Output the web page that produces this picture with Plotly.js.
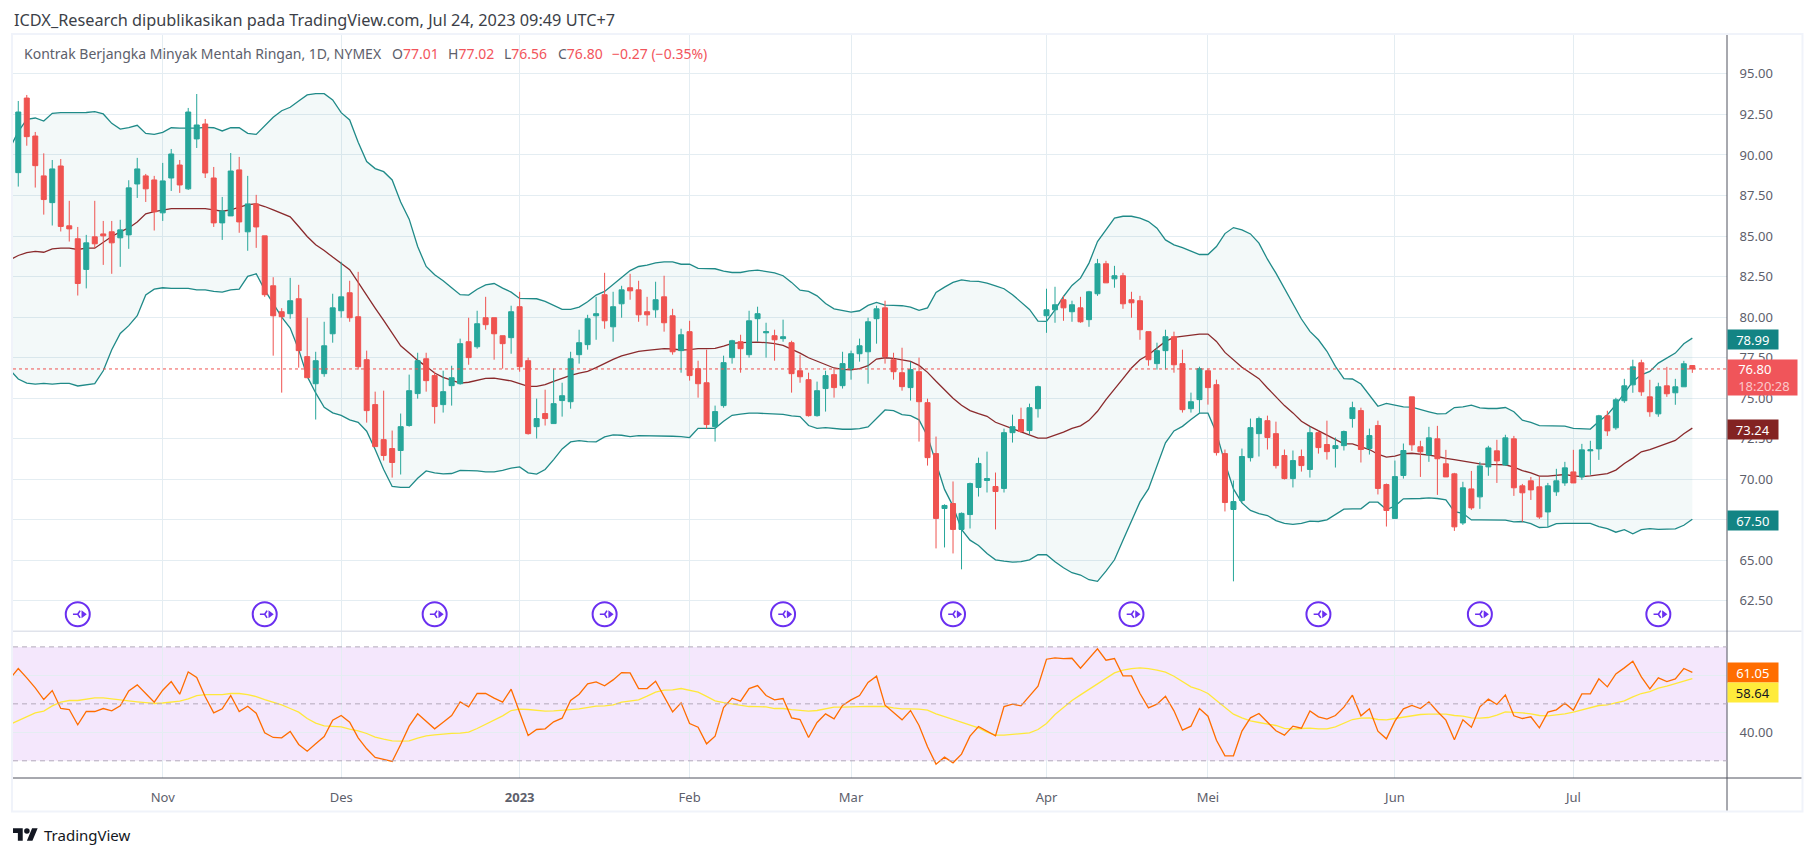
<!DOCTYPE html>
<html>
<head>
<meta charset="utf-8">
<script src="https://cdn.plot.ly/plotly-3.0.1.min.js"></script>
<style>
  body { margin: 0; background: #fff; }
  #chart { width: 1815px; height: 857px; }
  #logo { position: absolute; left: 13px; top: 828px; }
</style>
</head>
<body>
<div id="chart"></div>
<svg id="logo" width="25" height="13" viewBox="0 4 36 18"><path fill="#131722" d="M14 22H7V11H0V4h14v18zM28 22h-8l7.5-18h8L28 22z"/><circle fill="#131722" cx="20" cy="8" r="4"/></svg>
<script>
// daily candles, one per trading day (x = candle number)
const opens = [
  88.91,93.51,91.17,88.71,87.06,89.32,85.63,84.83,82.94,84.95,
  85.13,85.26,84.89,85.07,88.21,88.71,88.46,86.43,88.58,89.38,
  87.91,90.99,91.91,88.58,85.81,86.24,89.08,85.26,86.98,85.01,
  81.93,80.33,80.21,81.13,77.56,75.89,76.51,78.97,80.39,81.50,
  80.02,77.37,74.60,72.44,71.89,71.77,73.31,75.28,77.43,76.39,
  74.60,75.77,75.89,78.48,78.17,79.96,79.96,78.85,78.73,80.64,
  77.31,73.24,74.05,73.43,74.85,74.78,77.68,78.30,80.08,81.38,
  79.40,80.82,81.81,81.68,80.33,80.45,81.25,80.08,77.93,79.10,
  76.82,75.95,73.24,74.54,77.50,78.48,77.68,79.90,79.03,78.85,
  78.67,78.42,76.69,76.14,73.92,75.59,76.45,75.77,76.82,77.74,
  77.86,79.90,80.57,77.37,76.57,75.65,76.63,74.72,71.58,68.19,
  68.50,66.90,67.82,69.49,69.92,69.55,69.43,72.87,73.68,73.00,
  74.35,80.08,80.45,81.07,80.33,80.57,79.84,81.44,83.29,82.36,
  82.55,81.07,81.01,79.10,77.13,77.93,78.79,77.13,74.35,74.91,
  76.69,75.83,71.58,68.13,68.69,71.33,72.81,73.61,72.81,71.46,
  70.04,71.40,70.60,72.87,72.14,71.89,72.07,73.74,74.23,71.89,
  73.31,69.67,67.58,70.23,75.08,72.00,71.50,72.49,70.95,70.33,
  67.30,69.40,68.91,70.76,71.75,70.88,72.49,69.59,69.90,69.53,
  67.98,69.22,69.77,70.45,70.14,71.75,71.87,73.91,73.17,74.84,
  75.82,77.18,75.08,74.03,75.76,75.33,75.70,77.01
];
const highs = [
  93.33,93.70,91.42,90.10,89.69,89.75,87.17,85.56,85.07,87.17,
  85.93,85.93,86.00,88.44,89.82,88.83,88.71,89.51,90.37,89.69,
  92.90,93.76,92.22,89.26,87.41,90.12,89.88,88.71,87.54,85.01,
  82.46,80.55,82.42,81.99,79.96,77.86,79.71,81.44,83.41,82.24,
  82.79,77.93,75.40,75.46,73.00,74.05,76.45,77.80,77.80,76.63,
  76.69,77.00,78.67,79.96,80.39,81.25,79.96,78.85,80.70,81.56,
  77.50,74.97,75.52,76.82,75.95,77.86,79.22,80.14,81.25,82.73,
  81.56,81.93,82.67,82.24,81.25,82.18,82.55,80.51,79.28,79.77,
  77.31,77.99,74.54,77.62,78.60,78.91,80.39,80.64,79.65,79.22,
  79.84,78.54,77.68,76.57,76.02,76.69,76.82,77.86,77.93,78.67,
  79.96,80.70,81.01,77.80,78.11,77.25,77.50,74.97,72.63,68.45,
  69.86,67.95,69.79,71.33,71.70,70.41,73.12,73.98,74.41,74.66,
  75.77,81.75,81.87,81.31,81.01,81.25,81.62,83.59,83.47,83.16,
  82.73,81.56,81.31,79.10,78.42,79.22,79.10,77.99,75.34,76.94,
  76.82,76.14,71.83,69.92,71.89,73.74,73.86,73.92,73.55,71.83,
  71.77,71.83,73.24,73.00,73.61,72.57,73.00,74.78,74.41,73.12,
  73.61,69.73,71.15,72.20,75.08,72.37,73.23,73.29,71.81,70.39,
  69.84,70.51,71.07,72.06,72.43,72.74,72.67,69.71,70.14,70.14,
  69.77,70.64,71.07,71.81,72.18,72.37,73.97,74.22,75.02,76.19,
  77.37,77.37,76.13,75.95,76.93,76.19,77.30,77.02
];
const lows = [
  88.05,90.57,87.99,86.32,85.65,85.28,84.66,81.33,81.77,84.25,
  83.22,82.67,83.10,84.21,87.35,87.10,85.34,85.93,87.78,87.66,
  87.84,90.43,88.58,85.56,84.76,86.24,85.20,84.09,84.27,81.25,
  77.62,75.34,79.90,76.88,76.26,73.68,76.32,78.42,79.96,79.71,
  76.76,73.49,72.01,71.15,70.10,70.29,73.24,74.97,75.40,73.43,
  74.11,74.54,75.83,77.06,78.05,79.22,77.37,76.82,77.74,76.63,
  72.75,72.51,73.31,73.43,73.86,74.35,77.13,77.99,78.60,79.28,
  78.48,79.96,81.07,79.71,79.47,79.96,79.10,77.68,76.57,76.08,
  75.03,73.12,72.32,74.41,77.13,76.57,77.50,78.48,77.50,77.31,
  78.48,75.34,75.95,73.86,73.86,74.17,75.03,75.59,76.14,77.25,
  75.89,78.36,77.13,76.14,75.46,74.85,72.32,70.84,65.73,65.79,
  65.42,64.44,66.96,68.93,69.18,66.90,69.18,72.26,72.87,72.75,
  73.80,79.03,79.65,79.77,79.71,79.65,79.40,81.31,82.11,81.81,
  80.51,79.96,78.60,77.00,76.76,76.76,76.57,74.11,74.11,74.05,
  74.60,71.46,68.01,63.70,68.56,71.09,71.40,71.83,70.66,69.98,
  69.49,70.47,70.10,71.58,71.21,70.72,71.77,73.18,71.03,71.52,
  69.06,67.08,67.58,70.04,71.75,70.14,71.07,69.03,70.14,66.81,
  67.18,68.11,68.17,70.21,69.77,70.82,68.97,67.37,68.72,67.55,
  67.06,68.97,69.59,69.77,69.96,70.27,71.19,72.67,73.05,74.71,
  75.33,75.14,73.85,73.85,75.08,74.59,75.70,76.56
];
const closes = [
  92.65,91.13,89.34,87.25,89.14,85.59,85.44,82.07,84.58,84.52,
  85.01,84.58,85.38,87.97,89.14,87.91,86.49,88.40,90.06,88.15,
  92.65,91.85,88.89,85.81,86.55,89.01,85.87,86.98,85.56,81.38,
  80.08,80.02,81.01,77.93,76.26,77.31,78.23,80.57,81.25,79.96,
  76.94,74.23,72.01,71.46,71.03,73.24,75.46,77.31,76.08,74.48,
  75.40,76.26,78.36,77.50,79.59,79.53,78.97,78.36,80.33,76.94,
  72.81,73.74,73.74,74.66,75.15,77.43,78.42,79.90,80.21,79.77,
  80.64,81.68,81.62,80.14,80.14,81.07,79.65,77.86,78.91,76.39,
  75.89,73.37,74.17,77.19,78.54,78.05,79.77,80.21,79.10,78.60,
  78.79,76.51,76.32,73.92,75.46,76.39,75.65,77.13,77.74,78.23,
  79.71,80.51,77.56,76.63,75.71,76.76,74.78,71.33,67.58,68.38,
  66.90,67.89,69.73,70.97,70.04,69.24,72.87,73.24,72.94,74.41,
  75.71,80.45,80.76,80.57,80.76,79.71,81.56,83.29,82.11,82.55,
  80.82,80.88,79.22,77.37,77.93,78.79,77.06,74.29,74.78,76.82,
  75.65,71.64,68.56,68.62,71.40,73.18,73.74,72.57,70.84,70.04,
  71.15,70.84,72.87,71.95,71.70,72.07,72.94,74.41,71.83,72.69,
  69.43,68.07,70.16,71.77,72.12,71.69,72.55,71.26,70.14,67.06,
  69.47,68.23,70.82,71.93,71.13,72.55,69.47,69.16,69.34,67.67,
  69.59,69.90,70.70,69.77,71.81,71.81,73.91,72.98,74.90,75.76,
  76.93,75.39,74.16,75.70,75.27,75.70,77.12,76.80
];

// bollinger bands and rsi start one candle before the first visible one
const bbUpper = [
  90.41,91.44,92.20,92.28,92.09,92.57,92.61,92.60,92.59,92.62,92.67,
  92.53,91.95,91.60,91.68,91.83,91.33,91.27,91.40,91.68,91.65,
  91.64,91.66,91.70,91.68,91.48,91.68,91.68,91.33,91.27,91.81,
  92.32,92.73,92.94,93.33,93.70,93.78,93.78,93.39,92.61,92.16,
  90.78,89.59,89.16,88.97,88.46,87.10,86.04,84.35,83.12,82.61,
  82.24,81.81,81.38,81.36,81.72,81.99,82.07,81.79,81.54,81.15,
  81.13,81.13,80.97,80.72,80.47,80.47,80.62,80.94,81.36,81.58,
  81.99,82.44,82.87,83.12,83.20,83.35,83.41,83.41,83.26,83.26,
  83.00,83.00,82.98,82.83,82.75,82.75,82.85,82.90,82.81,82.73,
  82.55,82.14,81.66,81.58,81.31,80.84,80.51,80.43,80.31,80.39,
  80.72,80.90,80.74,80.72,80.70,80.62,80.41,80.57,81.52,81.85,
  82.14,82.30,82.22,82.20,82.09,81.93,81.75,81.38,80.92,80.47,
  79.75,79.73,80.45,81.27,81.95,82.40,83.33,84.66,85.38,86.10,
  86.22,86.22,86.10,85.89,85.48,84.76,84.46,84.29,84.07,83.86,
  83.86,84.35,85.15,85.52,85.38,85.13,84.56,83.57,82.71,81.79,
  80.86,79.88,79.12,78.60,77.89,76.96,76.20,76.18,75.87,75.22,
  74.50,74.68,74.58,74.46,74.44,74.32,74.16,74.03,74.05,74.42,
  74.46,74.57,74.40,74.36,74.36,74.42,74.16,73.64,73.50,73.31,
  73.31,73.27,73.27,73.13,73.09,73.09,73.56,73.97,74.59,75.31,
  76.03,76.44,76.65,77.16,77.47,77.78,78.35,78.70
];
const bbMiddle = [
  83.53,83.80,83.98,84.05,84.00,84.21,84.25,84.25,84.17,84.25,84.25,
  84.60,84.97,85.26,85.50,85.87,86.37,86.51,86.61,86.69,86.69,
  86.69,86.71,86.69,86.61,86.53,86.61,86.78,86.94,86.98,86.82,
  86.61,86.41,86.18,85.59,84.97,84.46,84.11,83.70,83.29,82.92,
  82.14,81.31,80.55,79.79,79.01,78.23,77.78,77.33,76.96,76.55,
  76.28,76.10,75.93,75.98,76.10,76.22,76.24,76.14,76.06,75.89,
  75.73,75.73,75.83,76.04,76.24,76.41,76.55,76.65,76.88,77.15,
  77.39,77.60,77.76,77.88,77.95,78.01,78.05,78.03,77.97,77.99,
  78.05,78.05,78.07,78.21,78.38,78.42,78.44,78.46,78.42,78.36,
  78.25,78.03,77.78,77.49,77.27,77.06,76.86,76.78,76.74,76.82,
  77.00,77.41,77.49,77.45,77.35,77.27,77.02,76.59,76.04,75.52,
  74.99,74.56,74.23,74.04,73.88,73.51,73.31,73.10,72.92,72.69,
  72.53,72.53,72.71,72.90,73.14,73.29,73.63,74.19,74.91,75.52,
  76.20,76.86,77.37,77.68,78.09,78.50,78.75,78.81,78.85,78.95,
  78.95,78.50,77.82,77.33,76.90,76.55,76.20,75.63,75.07,74.54,
  74.09,73.57,73.26,72.99,72.69,72.40,72.18,72.18,71.99,71.83,
  71.54,71.36,71.42,71.58,71.60,71.56,71.48,71.40,71.28,71.21,
  71.11,71.01,70.95,70.91,70.91,70.89,70.74,70.53,70.39,70.19,
  70.19,70.23,70.29,70.21,70.16,70.21,70.29,70.35,70.56,70.97,
  71.30,71.69,71.83,72.02,72.22,72.39,72.80,73.15
];
const bbLower = [
  76.76,76.18,75.93,75.87,75.91,75.87,75.91,75.91,75.75,75.83,75.89,
  76.69,77.99,78.99,79.47,80.08,81.36,81.72,81.81,81.77,81.77,
  81.77,81.68,81.68,81.58,81.54,81.68,81.72,82.51,82.67,81.68,
  80.86,80.00,79.32,77.99,76.34,75.32,74.44,74.09,73.94,73.66,
  73.51,72.96,71.83,70.60,69.55,69.49,69.49,70.06,70.51,70.39,
  70.33,70.35,70.55,70.55,70.51,70.45,70.45,70.55,70.68,70.76,
  70.39,70.31,70.60,71.21,71.87,72.30,72.38,72.32,72.30,72.61,
  72.73,72.71,72.63,72.69,72.69,72.67,72.65,72.65,72.63,72.57,
  73.14,73.12,73.14,73.57,73.94,74.02,74.07,74.07,74.05,74.00,
  74.00,73.90,73.86,73.31,73.14,73.18,73.12,73.08,73.08,73.12,
  73.22,73.76,74.27,74.23,73.98,73.92,73.66,72.65,71.01,69.37,
  68.34,66.90,66.24,65.91,65.42,65.03,64.95,64.89,64.91,65.03,
  65.34,65.34,64.91,64.54,64.23,64.09,63.80,63.70,64.33,65.03,
  66.24,67.41,68.60,69.40,70.80,72.24,72.98,73.26,73.68,74.07,
  74.07,72.85,71.01,69.40,68.54,68.07,67.88,67.76,67.45,67.27,
  67.21,67.27,67.41,67.39,67.49,67.82,68.15,68.17,68.17,68.58,
  68.58,68.13,68.34,68.79,68.79,68.81,68.85,68.81,68.72,68.00,
  67.90,67.49,67.49,67.49,67.47,67.47,67.37,67.39,67.26,67.02,
  67.04,67.26,67.28,67.26,67.28,67.28,67.08,66.95,66.73,66.89,
  66.63,66.89,66.95,66.91,66.93,66.93,67.16,67.53
];
const rsi = [
  58.77,62.40,59.12,55.61,51.52,54.68,48.36,48.01,42.63,47.31,47.31,
  48.36,47.54,49.30,54.56,56.67,53.63,50.58,54.80,57.84,53.39,
  61.23,59.24,52.46,46.84,48.25,52.92,47.31,49.18,46.73,39.82,
  38.19,38.07,40.29,35.73,33.39,35.96,38.54,44.27,45.91,43.57,
  38.07,34.21,31.17,30.47,29.77,35.73,42.16,46.49,43.92,41.23,
  43.57,45.91,50.70,48.95,53.63,53.63,51.99,50.58,55.15,47.08,
  38.89,40.99,41.23,43.68,44.97,51.17,53.39,57.02,57.72,56.32,
  58.42,60.99,60.88,55.38,55.38,57.95,52.69,47.19,50.35,43.10,
  41.81,35.96,38.65,48.71,51.99,50.94,55.38,56.43,52.92,51.40,
  51.87,45.09,44.50,38.19,43.45,46.49,44.74,49.42,51.40,52.92,
  57.49,59.71,49.53,46.96,44.39,47.66,42.40,34.91,28.83,31.29,
  29.30,32.34,38.65,42.05,40.29,38.77,49.06,49.88,49.30,52.92,
  56.20,65.67,66.14,65.91,66.02,62.51,65.91,69.30,65.32,65.91,
  59.82,59.82,53.63,48.60,49.88,52.69,47.54,40.76,42.16,48.36,
  45.67,37.20,31.75,31.75,40.41,45.09,46.61,43.68,40.53,39.01,
  42.16,41.46,47.54,45.44,44.62,45.91,48.83,53.04,45.79,48.25,
  40.41,37.72,43.92,48.25,49.42,48.36,50.70,47.31,44.27,37.37,
  44.39,41.81,48.95,51.64,49.77,53.16,45.79,44.85,45.44,41.58,
  47.08,47.89,50.23,47.78,53.51,53.51,58.77,55.96,60.53,62.63,
  64.97,59.47,55.26,59.12,57.84,58.77,62.40,61.05
];
const rsiMa = [
  42.75,44.15,45.60,46.84,47.43,49.30,50.58,51.17,51.17,51.52,52.11,
  52.11,51.70,51.29,51.00,50.70,50.40,50.12,50.30,50.58,50.94,
  51.75,52.92,53.27,53.27,53.27,53.63,53.63,53.27,52.57,51.52,
  50.70,49.65,48.36,47.08,44.85,43.22,42.28,42.10,41.93,41.11,
  40.53,39.59,38.30,37.60,37.02,36.90,37.02,37.95,38.77,39.12,
  39.47,39.60,39.71,40.06,41.35,42.75,44.39,45.79,47.66,48.13,
  48.01,47.70,47.43,47.50,47.66,48.00,48.25,48.83,49.18,49.30,
  49.65,50.58,51.00,51.40,52.70,54.09,54.80,54.91,55.38,54.80,
  54.09,52.60,51.05,50.40,49.88,49.40,49.06,49.00,48.95,48.36,
  48.36,48.00,47.66,47.43,47.66,48.25,48.83,48.83,48.83,49.00,
  49.10,49.18,49.06,48.60,48.25,48.20,48.13,47.78,46.49,45.50,
  44.50,43.33,42.40,41.58,40.06,39.01,39.01,39.20,39.47,39.82,
  40.99,43.10,46.26,48.60,51.17,53.16,55.03,57.13,58.77,60.88,
  61.81,62.40,62.63,62.40,61.81,61.11,59.71,57.84,55.96,55.03,
  53.63,51.17,48.60,46.37,45.09,44.04,43.45,42.98,42.40,41.35,
  41.11,41.35,41.46,41.23,41.23,41.93,43.22,44.50,44.97,45.09,
  44.50,44.39,44.85,45.32,45.91,46.26,46.37,46.49,46.37,45.91,
  45.67,45.09,44.97,45.20,46.02,47.19,47.08,46.84,46.49,45.91,
  45.79,46.02,46.49,47.08,47.89,48.60,49.42,49.65,50.35,51.05,
  52.46,53.63,54.33,55.50,56.20,57.13,57.95,58.89
];

// month labels and the candle each month starts on
const tickIdx = [17, 38, 59, 79, 98, 121, 140, 162, 183];
const tickText = ['Nov', 'Des', '<b>2023</b>', 'Feb', 'Mar', 'Apr', 'Mei', 'Jun', 'Jul'];
const priceTicks = [62.5, 65, 67.5, 70, 72.5, 75, 77.5, 80, 82.5, 85, 87.5, 90, 92.5, 95];
const rsiTicks = [40, 60];
const rsiLevels = [30, 50, 70];
// contract rollover markers
const eventIdx = [7, 29, 49, 69, 90, 110, 131, 153, 172, 193];
const eventLevel = 61.67;
const lastPrice = 76.80;

const FONT = '"Noto Sans", sans-serif';
const candleX = opens.map((v, i) => i);
const lineX = rsi.map((v, i) => i - 1);

// page pixels to paper coordinates
const LEFT = 13, RIGHT = 1727.5, TOP = 35, BOTTOM = 778.5;
const px = x => (x - LEFT) / (RIGHT - LEFT);
const py = y => (BOTTOM - y) / (BOTTOM - TOP);

const TEAL = '#1f8a88', MAROON = '#8a2a2c', UP = '#26a69a', DOWN = '#ef5350', PURPLE = '#6a2ff0';

const traces = [
  {x: lineX, y: bbUpper, mode: 'lines', line: {color: TEAL, width: 1.3}, xaxis: 'x', yaxis: 'y'},
  {x: lineX, y: bbLower, mode: 'lines', line: {color: TEAL, width: 1.3}, fill: 'tonexty', fillcolor: 'rgba(19,132,132,0.05)', xaxis: 'x', yaxis: 'y'},
  {x: lineX, y: bbMiddle, mode: 'lines', line: {color: MAROON, width: 1.3}, xaxis: 'x', yaxis: 'y'},
  {
    type: 'candlestick', x: candleX, open: opens, high: highs, low: lows, close: closes,
    xaxis: 'x', yaxis: 'y3', whiskerwidth: 0,
    increasing: {line: {color: UP, width: 1}, fillcolor: UP},
    decreasing: {line: {color: DOWN, width: 1}, fillcolor: DOWN}
  },
  {x: lineX, y: rsiMa, mode: 'lines', line: {color: '#ffe83b', width: 1.3}, xaxis: 'x', yaxis: 'y2'},
  {x: lineX, y: rsi, mode: 'lines', line: {color: '#ff6d00', width: 1.3}, xaxis: 'x', yaxis: 'y2'},
  {
    x: eventIdx, y: eventIdx.map(() => eventLevel), mode: 'markers', xaxis: 'x', yaxis: 'y',
    marker: {symbol: 'circle-open', size: 24, color: PURPLE, line: {width: 2}}
  },
  // fork merging into the arrow head inside the circle
  {
    x: eventIdx, y: eventIdx.map(() => eventLevel), mode: 'markers', xaxis: 'x', yaxis: 'y',
    marker: {symbol: 'y-left-open', size: 6, color: PURPLE, line: {width: 1.6}}
  },
  {
    x: eventIdx.map(v => v + 0.65), y: eventIdx.map(() => eventLevel), mode: 'markers', xaxis: 'x', yaxis: 'y',
    marker: {symbol: 'triangle-right', size: 7, color: PURPLE, line: {width: 0}}
  }
];

function tag(text, y0, y1, bg, color, x1) {
  return {
    xref: 'paper', yref: 'paper', x: 1, xanchor: 'left', y: py((y0 + y1) / 2), yanchor: 'middle',
    width: (x1 || 1777) - RIGHT, height: y1 - y0, bgcolor: bg, borderpad: 0, showarrow: false,
    align: x1 ? 'left' : 'center', text: text, font: {family: FONT, size: 13, color: color}
  };
}
function label(text, x, y, size, color) {
  return {
    xref: 'paper', yref: 'paper', x: px(x), y: py(y), xanchor: 'left', yanchor: 'middle',
    showarrow: false, text: text, borderpad: 0, font: {family: FONT, size: size, color: color}
  };
}

const GREY = '#5d606b', RED = '#f2545b';
const annotations = [
  label('ICDX_Research dipublikasikan pada TradingView.com, Jul 24, 2023 09:49 UTC+7', 13, 20, 16.3, '#3c3f48'),
  label('Kontrak Berjangka Minyak Mentah Ringan, 1D, NYMEX', 23, 53.5, 14, GREY),
  label('O<span style="color:' + RED + '">77.01</span>', 391, 53.5, 14, GREY),
  label('H<span style="color:' + RED + '">77.02</span>', 447, 53.5, 14, GREY),
  label('L<span style="color:' + RED + '">76.56</span>', 503, 53.5, 14, GREY),
  label('C<span style="color:' + RED + '">76.80</span>', 557, 53.5, 14, GREY),
  label('<span style="color:' + RED + '">\u22120.27 (\u22120.35%)</span>', 611.5, 53.5, 14, GREY),
  label('TradingView', 43, 836, 15, '#131722'),
  tag('78.99', 330, 349, '#138484', '#ffffff'),
  tag('\u00a0\u00a0\u00a076.80<br>\u00a0\u00a0\u00a0<span style="color:#fbc9cb">18:20:28</span>', 360, 395, '#f0555a', '#ffffff', 1796),
  tag('73.24', 420, 439, '#832322', '#ffffff'),
  tag('67.50', 511, 530, '#138484', '#ffffff'),
  tag('61.05', 663, 682, '#ff6d00', '#ffffff'),
  tag('58.64', 683, 702, '#ffeb3b', '#131722')
];

const shapes = [
  // rsi background band
  {type: 'rect', xref: 'paper', yref: 'y2', x0: 0, x1: 1, y0: rsiLevels[0], y1: rsiLevels[2], fillcolor: 'rgba(156,39,230,0.11)', line: {width: 0}, layer: 'below'},
  // chart frame
  {type: 'rect', xref: 'paper', yref: 'paper', x0: px(12), x1: px(1803), y0: py(812), y1: py(34), line: {color: '#f0f3fa', width: 2}},
  // pane separator and axis lines
  {type: 'line', xref: 'paper', yref: 'paper', x0: 0, x1: px(1802), y0: py(631.7), y1: py(631.7), line: {color: '#e0e3eb', width: 1.5}},
  {type: 'line', xref: 'paper', yref: 'paper', x0: 0, x1: px(1802), y0: 0, y1: 0, line: {color: '#50535e', width: 1}},
  {type: 'line', xref: 'paper', yref: 'paper', x0: 1, x1: 1, y0: py(811), y1: 1, line: {color: '#50535e', width: 1}},
  // last price line
  {type: 'line', xref: 'paper', yref: 'y', x0: 0, x1: 1, y0: lastPrice, y1: lastPrice, line: {color: '#ef5350', width: 1, dash: 'dot'}}
].concat(rsiLevels.map(v => ({
  type: 'line', xref: 'paper', yref: 'y2', x0: 0, x1: 1, y0: v, y1: v,
  line: {color: '#b3a9bb', width: 1, dash: '5px,4px'}
})));

const priceRange = [60.63, 97.40];
const layout = {
  width: 1815, height: 857,
  margin: {l: LEFT, r: 1815 - RIGHT, t: TOP, b: 857 - BOTTOM, pad: 0},
  paper_bgcolor: '#ffffff', plot_bgcolor: '#ffffff',
  showlegend: false, hovermode: false, boxgap: 0.16,
  xaxis: {
    anchor: 'y2', range: [-0.62, 201.08], tickmode: 'array', tickvals: tickIdx, ticktext: tickText,
    showgrid: true, gridcolor: '#e4edf2', gridwidth: 1, zeroline: false, showline: false,
    ticks: 'outside', ticklen: 7, tickcolor: 'rgba(0,0,0,0)',
    tickfont: {family: FONT, size: 13, color: GREY},
    rangeslider: {visible: false}
  },
  yaxis: {
    domain: [py(631.5), 1], range: priceRange, side: 'right', anchor: 'x',
    tickmode: 'array', tickvals: priceTicks, ticktext: priceTicks.map(v => v.toFixed(2)),
    showgrid: true, gridcolor: '#e4edf2', gridwidth: 1, zeroline: false, showline: false,
    ticks: 'outside', ticklen: 9, tickcolor: 'rgba(0,0,0,0)',
    tickfont: {family: FONT, size: 13, color: GREY}
  },
  yaxis2: {
    domain: [0, py(632)], range: [23.96, 75.37], side: 'right', anchor: 'x',
    tickmode: 'array', tickvals: rsiTicks, ticktext: rsiTicks.map(v => v.toFixed(2)),
    showgrid: true, gridcolor: '#e4edf2', gridwidth: 1, zeroline: false, showline: false,
    ticks: 'outside', ticklen: 9, tickcolor: 'rgba(0,0,0,0)',
    tickfont: {family: FONT, size: 13, color: GREY}
  },
  // candles sit on an overlay so they draw above the bands
  yaxis3: {
    overlaying: 'y', range: priceRange, side: 'right', anchor: 'x',
    showgrid: false, zeroline: false, showticklabels: false, ticks: ''
  },
  shapes: shapes,
  annotations: annotations
};

Plotly.newPlot("chart", traces, layout, {displayModeBar: false});
</script>
</body>
</html>
